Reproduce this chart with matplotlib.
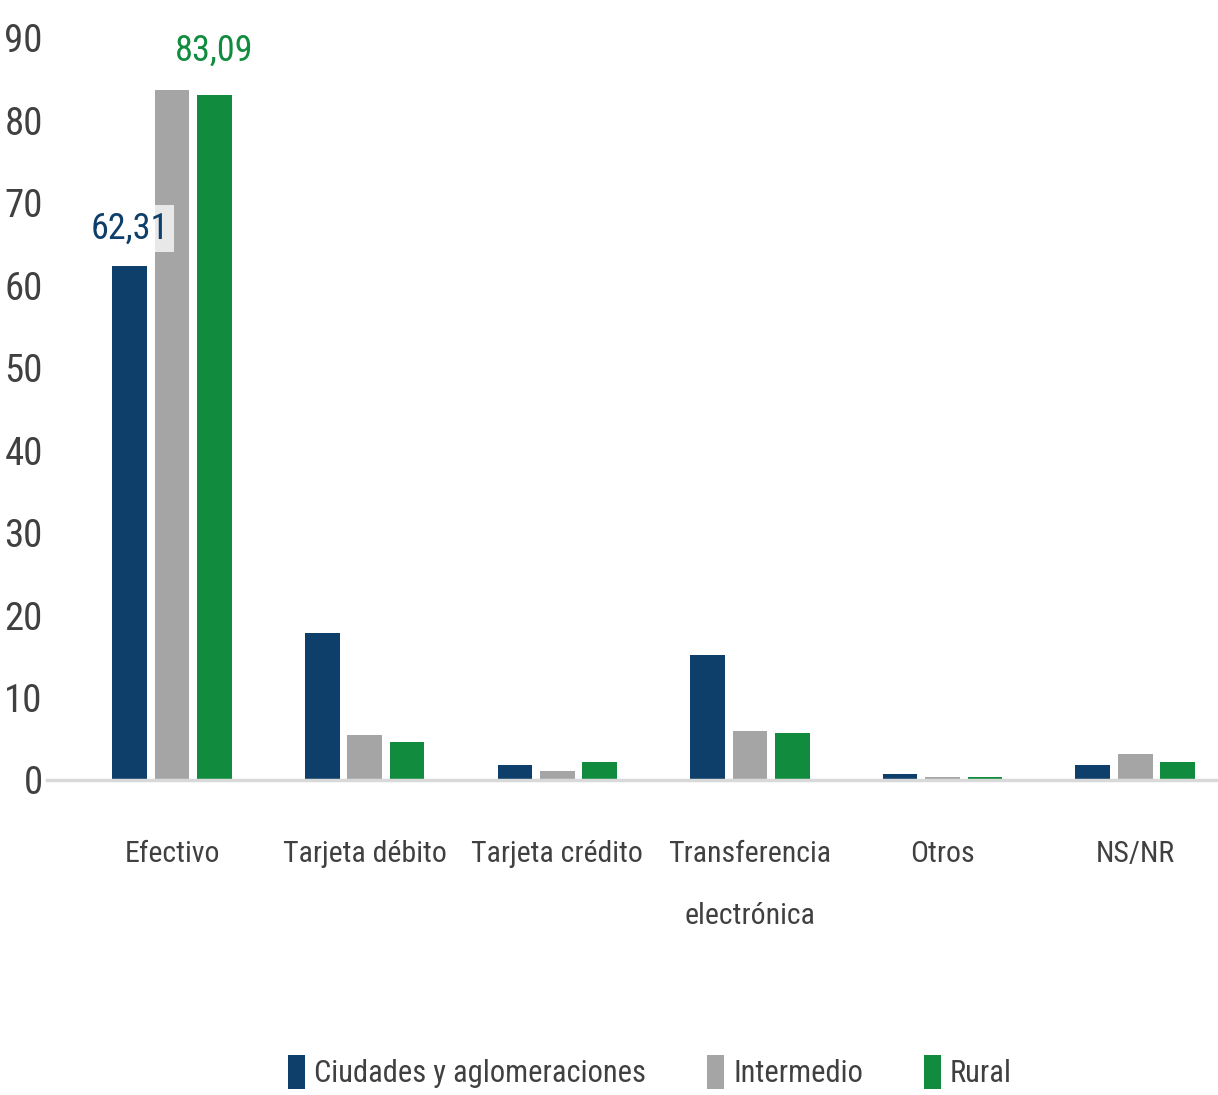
import matplotlib
matplotlib.use("Agg")
import matplotlib.pyplot as plt
import numpy as np
from matplotlib import font_manager

fams = set(f.name for f in font_manager.fontManager.ttflist)
font = "Roboto"
for cand in ["Roboto Condensed", "Liberation Sans Narrow", "Open Sans Condensed", "Noto Sans Condensed"]:
    if cand in fams:
        font = cand
        break
condensed = font != "Roboto"
plt.rcParams['font.family'] = [font, 'DejaVu Sans']

categories = ["Efectivo", "Tarjeta débito", "Tarjeta crédito", "Transferencia\nelectrónica", "Otros", "NS/NR"]
series_names = ["Ciudades y aglomeraciones", "Intermedio", "Rural"]
ciudades = [62.31, 17.8, 1.8, 15.2, 0.7, 1.8]
intermedio = [83.7, 5.5, 1.1, 5.9, 0.35, 3.1]
rural = [83.09, 4.6, 2.2, 5.7, 0.35, 2.2]
yticks = [0, 10, 20, 30, 40, 50, 60, 70, 80, 90]

colors = ["#0e3f6b", "#a5a5a5", "#118c3e"]
text_color = "#404040"

fs_tick = 28 if condensed else 25
fs_cat = 21.5 if condensed else 19
fs_lab = 26 if condensed else 23
fs_leg = 22 if condensed else 19

fig = plt.figure(figsize=(12.18, 10.95), dpi=100)
ax = fig.add_axes([47/1218, 1-780/1095, 1-47/1218, (780-38)/1095])

x = np.arange(len(categories))
w = 0.18
step = 0.22
for i, (vals, name) in enumerate(zip([ciudades, intermedio, rural], series_names)):
    ax.bar(x + (i-1)*step, vals, width=w, color=colors[i], label=name, zorder=2)

ax.set_ylim(0, 90)
ax.set_xlim(-0.649, 5.43)
ax.set_yticks(yticks)
ax.set_yticklabels([str(t) for t in yticks], fontsize=fs_tick, color=text_color)
ax.set_xticks(x)
ax.set_xticklabels(categories, fontsize=fs_cat, color=text_color, linespacing=2.55, va='top')
ax.tick_params(axis='y', length=0, pad=3)
ax.tick_params(axis='x', length=0, pad=43)
for s in ["top", "right", "left"]:
    ax.spines[s].set_visible(False)
ax.spines["bottom"].set_color("#d9d9d9")
ax.spines["bottom"].set_linewidth(2.5)

# data labels
ax.annotate(f"{ciudades[0]:.2f}".replace(".", ","), (x[0]-step, ciudades[0]), xytext=(0, 14),
            textcoords="offset points", ha='center', va='bottom', fontsize=fs_lab, color=colors[0],
            bbox=dict(boxstyle="square,pad=0.15", fc="white", ec="none", alpha=0.75), zorder=3)
ax.annotate(f"{rural[0]:.2f}".replace(".", ","), (x[0]+step, rural[0]), xytext=(0, 19),
            textcoords="offset points", ha='center', va='bottom', fontsize=fs_lab, color=colors[2], zorder=3)

fig.legend(loc='center', bbox_to_anchor=(650/1218, 1-1072/1095), ncol=3, frameon=False,
           fontsize=fs_leg, handlelength=0.55, handleheight=1.35, columnspacing=2.0, handletextpad=0.3,
           labelcolor=text_color)

fig.savefig("out.png", dpi=100)
